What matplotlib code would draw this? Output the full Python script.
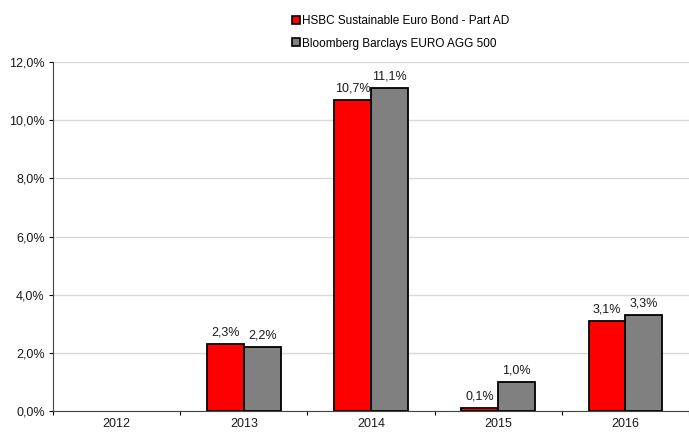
import numpy as np
import matplotlib.pyplot as plt
from matplotlib.lines import Line2D

plt.rcParams['font.family'] = ['Liberation Sans', 'DejaVu Sans']

# Yearly performance (%)
years = ['2012', '2013', '2014', '2015', '2016']
fund = [np.nan, 2.3, 10.7, 0.1, 3.1]
index = [np.nan, 2.2, 11.1, 1.0, 3.3]
fund_name = 'HSBC Sustainable Euro Bond - Part AD'
index_name = 'Bloomberg Barclays EURO AGG 500'
yticks = [0, 2, 4, 6, 8, 10, 12]

red = '#ff0000'
grey = '#808080'

fig = plt.figure(figsize=(6.89, 4.32), dpi=100)
ax = fig.add_axes([0.077, 0.049, 0.923, 0.807])

x = np.arange(len(years))
w = 0.29
b1 = ax.bar(x - w / 2, fund, w, color=red, edgecolor='black', linewidth=1.3, zorder=3)
b2 = ax.bar(x + w / 2, index, w, color=grey, edgecolor='black', linewidth=1.3, zorder=3)

def fmt(v):
    return f'{v:.1f}%'.replace('.', ',')

for bars, vals in [(b1, fund), (b2, index)]:
    labels = ['' if np.isnan(v) else fmt(v) for v in vals]
    ax.bar_label(bars, labels=labels, padding=4, fontsize=9, color='#1a1a1a')

ax.set_xlim(-0.5, len(years) - 0.5)
ax.set_ylim(0, 12)
ax.set_yticks(yticks)
ax.set_yticklabels([fmt(v) for v in yticks], fontsize=9, color='#1a1a1a')
ax.set_xticks(x)
ax.set_xticklabels(years, fontsize=9, color='#1a1a1a')
ax.set_xticks(np.arange(len(years) + 1) - 0.5, minor=True)
ax.tick_params(axis='x', which='major', length=0, pad=5)
ax.tick_params(axis='x', which='minor', length=3, width=0.8)
ax.tick_params(axis='y', length=3, width=0.8, pad=3)

ax.grid(axis='y', color='#d9d9d9', linewidth=1, zorder=0)
ax.spines['top'].set_visible(False)
ax.spines['right'].set_visible(False)
ax.spines['left'].set_color('#444444')
ax.spines['bottom'].set_color('#444444')

handles = [
    Line2D([], [], marker='s', linestyle='none', markersize=6,
           markerfacecolor=red, markeredgecolor='black', markeredgewidth=1.2),
    Line2D([], [], marker='s', linestyle='none', markersize=6,
           markerfacecolor=grey, markeredgecolor='black', markeredgewidth=1.2),
]
fig.legend(handles, [fund_name, index_name], loc='upper left',
           bbox_to_anchor=(0.409, 0.99), frameon=False, fontsize=8.5,
           handlelength=0.6, handletextpad=0.2, labelspacing=0.9)

fig.savefig('out.png', dpi=100)
